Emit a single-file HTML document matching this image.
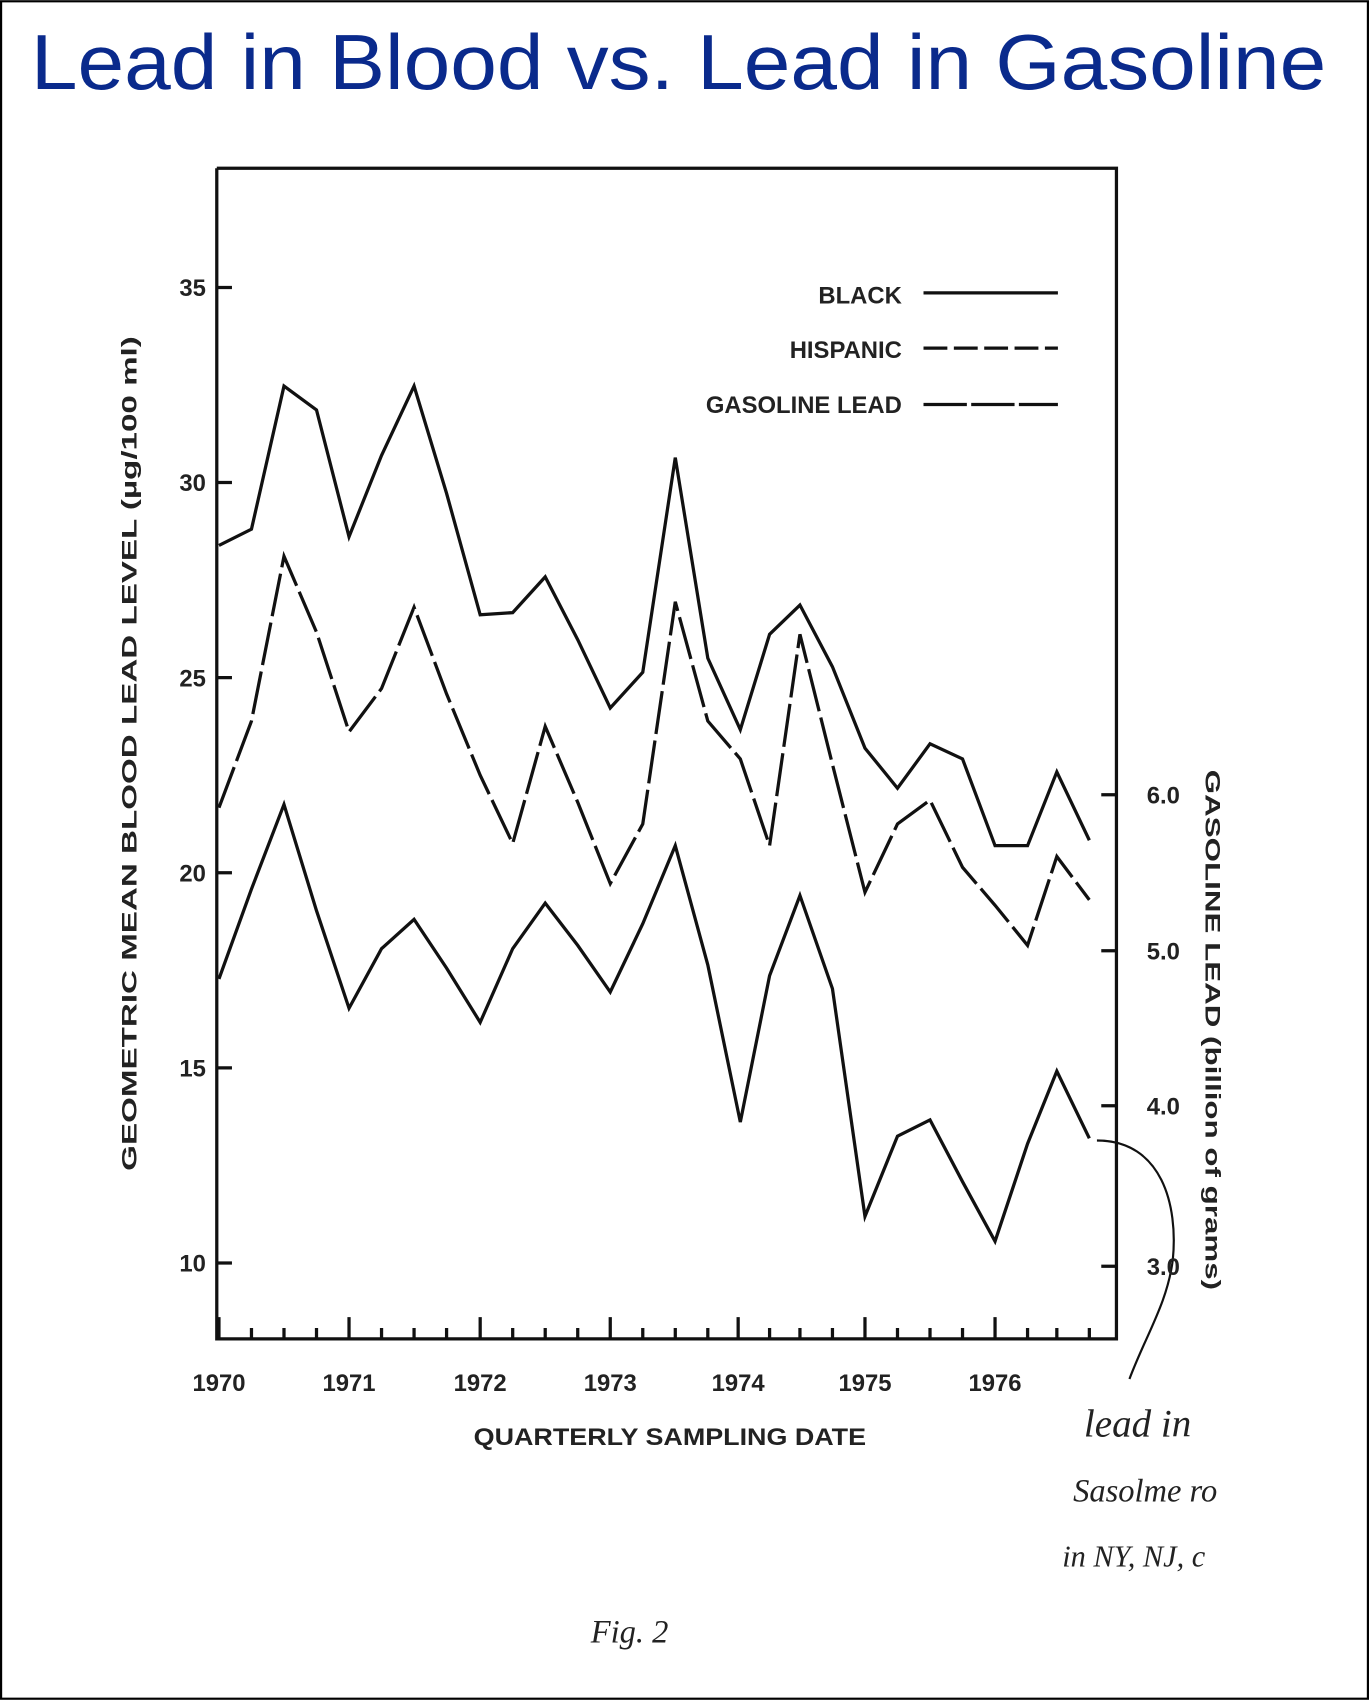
<!DOCTYPE html>
<html><head><style>
html,body{margin:0;padding:0;background:#fff;}
svg{display:block;}
</style></head><body>
<svg width="1369" height="1700" viewBox="0 0 1263 1568" xmlns="http://www.w3.org/2000/svg" font-family="Liberation Sans, sans-serif">
<rect x="1" y="1" width="1261" height="1566" fill="#fff" stroke="#000" stroke-width="2"/>
<text x="626" y="82" text-anchor="middle" font-size="72" fill="#0a2a8c" textLength="1195" lengthAdjust="spacingAndGlyphs">Lead in Blood vs. Lead in Gasoline</text>
<g stroke="#111" fill="none" stroke-width="3">
<polyline points="200,155 1030,155 1030,1235 200,1235 200,155"/>
<!-- left ticks -->
<path d="M200,265h14M200,445h14M200,625h14M200,805h14M200,985h14M200,1165h14"/>
<!-- right ticks -->
<path d="M1016,733h14M1016,877h14M1016,1020h14M1016,1168h14"/>
<!-- bottom ticks -->
<path d="M202,1235v-20M322,1235v-20M443,1235v-20M563,1235v-20M681,1235v-20M798,1235v-20M918,1235v-20"/>
<path d="M232,1235v-10M262,1235v-10M292,1235v-10M352,1235v-10M382,1235v-10M412,1235v-10M473,1235v-10M503,1235v-10M533,1235v-10M593,1235v-10M623,1235v-10M653,1235v-10M710,1235v-10M738,1235v-10M768,1235v-10M828,1235v-10M858,1235v-10M888,1235v-10M948,1235v-10M975,1235v-10M1005,1235v-10"/>
<polyline stroke-width="3" points="202,503 232,488 262,356 292,378 322,495 352,420 382,356 412,455 443,567 473,565 503,532 533,590 563,653 593,620 623,422 653,607 683,673 710,585 738,558 768,615 798,690 828,727 858,686 888,700 918,780 948,780 975,712 1005,775"/>
<polyline stroke-width="3" stroke-dasharray="40,6" points="202,745 232,665 262,513 292,583 322,675 352,635 382,560 412,640 443,715 473,778 503,670 533,740 563,815 593,760 623,555 653,665 683,700 710,780 738,585 768,705 798,823 828,760 858,738 888,800 918,835 948,872 975,790 1005,830"/>
<polyline stroke-width="3" points="202,903 232,820 262,742 292,840 322,930 352,875 382,848 412,893 443,943 473,875 503,833 533,872 563,915 593,852 623,780 653,890 683,1035 710,900 738,826 768,912 798,1122 828,1048 858,1033 888,1090 918,1145 948,1055 975,988 1005,1050"/>
<path d="M852,270h124"/>
<path d="M852,321h124" stroke-dasharray="22,6"/>
<path d="M852,373h124" stroke-dasharray="40,4"/>
<path d="M1012,1052c60,0 75,60 70,110c-5,40 -25,70 -40,110" stroke-width="2"/>
</g>
<g font-size="22" font-weight="bold" fill="#222">
<text x="190" y="273" text-anchor="end">35</text>
<text x="190" y="453" text-anchor="end">30</text>
<text x="190" y="633" text-anchor="end">25</text>
<text x="190" y="813" text-anchor="end">20</text>
<text x="190" y="993" text-anchor="end">15</text>
<text x="190" y="1173" text-anchor="end">10</text>
<text x="1058" y="741">6.0</text>
<text x="1058" y="885">5.0</text>
<text x="1058" y="1028">4.0</text>
<text x="1058" y="1176">3.0</text>
<g text-anchor="middle">
<text x="202" y="1283">1970</text><text x="322" y="1283">1971</text><text x="443" y="1283">1972</text><text x="563" y="1283">1973</text><text x="681" y="1283">1974</text><text x="798" y="1283">1975</text><text x="918" y="1283">1976</text>
</g>
<text x="618" y="1333" text-anchor="middle" textLength="362" lengthAdjust="spacingAndGlyphs">QUARTERLY SAMPLING DATE</text>
<text x="832" y="280" text-anchor="end">BLACK</text>
<text x="832" y="330" text-anchor="end">HISPANIC</text>
<text x="832" y="381" text-anchor="end">GASOLINE LEAD</text>
<text transform="translate(126,695) rotate(-90)" text-anchor="middle" font-size="20" textLength="770" lengthAdjust="spacingAndGlyphs">GEOMETRIC MEAN BLOOD LEAD LEVEL (µg/100 ml)</text>
<text transform="translate(1112,950) rotate(90)" text-anchor="middle" font-size="20" textLength="480" lengthAdjust="spacingAndGlyphs">GASOLINE LEAD (billion of grams)</text>
</g>
<g font-family="Liberation Serif, serif" font-style="italic" font-size="36" fill="#222">
<text x="1000" y="1325">lead in</text>
<text x="990" y="1385" font-size="30">Sasolme ro</text>
<text x="980" y="1445" font-size="28">in NY, NJ, c</text>
<text x="545" y="1515" font-size="30">Fig. 2</text>
</g>
</svg>
</body></html>
